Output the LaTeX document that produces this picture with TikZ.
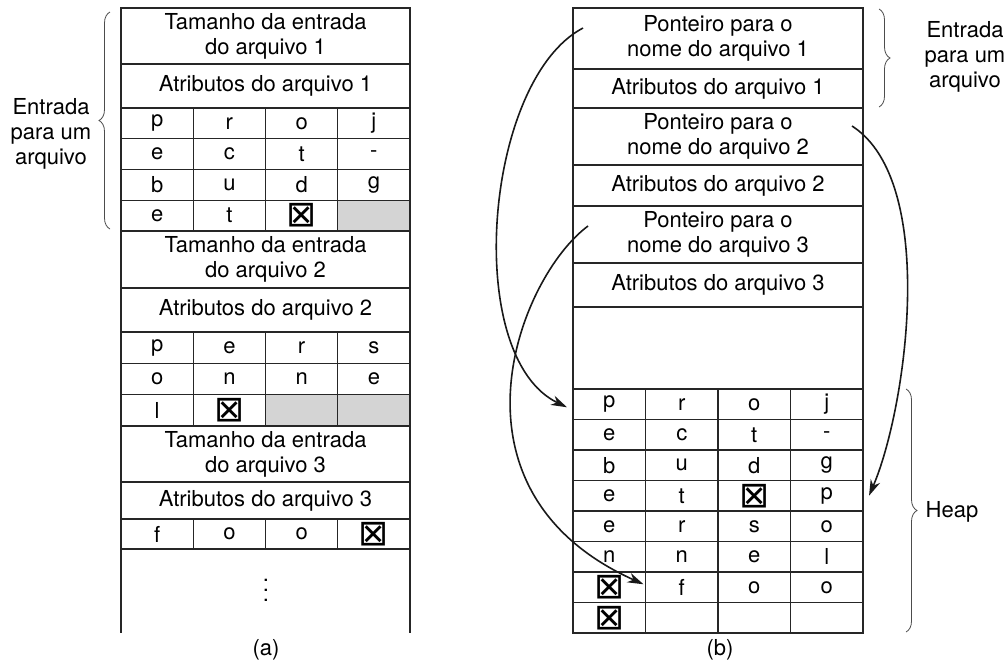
\documentclass[tikz,border=0pt]{standalone}
\usepackage{fontspec}
\setmainfont{TeX Gyre Heros}
\newfontfamily\symfont{DejaVu Sans}
\usepackage{tikz}
\usetikzlibrary{positioning,calc,arrows.meta,decorations.pathreplacing}

\newcommand{\xb}{{\symfont\fontsize{36}{36}\selectfont ⊠}}

\begin{document}
\begin{tikzpicture}[
    x=1pt, y=-1pt,
    font=\fontsize{22}{25}\selectfont,
    box/.style={draw=black!85, line width=1.3pt, inner sep=0pt, outer sep=0pt, anchor=north west, align=center},
    wide/.style={box, minimum width=289pt},
    wideb/.style={box, minimum width=290pt},
    cell/.style={box, minimum width=72.25pt, minimum height=30.75pt},
    hcell/.style={box, minimum width=72.5pt, minimum height=30.5pt},
    shade/.style={fill=black!17},
    brace/.style={decorate, decoration={brace, amplitude=11pt}, line width=0.8pt, draw=black!70},
    arrow/.style={line width=1.6pt, draw=black!90, -{Stealth[length=16pt, width=10pt, inset=5pt]}}
]
\useasboundingbox (0,0) rectangle (1008,665);

% (a) Entrada 1
\node (ta1) [wide, minimum height=56pt] at (121,8) {Tamanho da entrada\\do arquivo 1};
\node (aa1) [wide, minimum height=44pt] at (121,64) {Atributos do arquivo 1};
\foreach \t [count=\i] in {p,r,o,j} \node (a1r1c\i) [cell] at (121+72.25*\i-72.25,108) {\t};
\foreach \t [count=\i] in {e,c,t,-} \node (a1r2c\i) [cell] at (121+72.25*\i-72.25,138.75) {\t};
\foreach \t [count=\i] in {b,u,d,g} \node (a1r3c\i) [cell] at (121+72.25*\i-72.25,169.5) {\t};
\foreach \t [count=\i] in {e,t,\xb} \node (a1r4c\i) [cell] at (121+72.25*\i-72.25,200.25) {\t};
\node (a1r4c4) [cell, shade] at (337.75,200.25) {};

% (a) Entrada 2
\node (ta2) [wide, minimum height=57pt] at (121,231) {Tamanho da entrada\\do arquivo 2};
\node (aa2) [wide, minimum height=44pt] at (121,288) {Atributos do arquivo 2};
\foreach \t [count=\i] in {p,e,r,s} \node (a2r1c\i) [cell, minimum height=31.33pt] at (121+72.25*\i-72.25,332) {\t};
\foreach \t [count=\i] in {o,n,n,e} \node (a2r2c\i) [cell, minimum height=31.33pt] at (121+72.25*\i-72.25,363.33) {\t};
\node (a2r3c1) [cell, minimum height=31.33pt] at (121,394.67) {l};
\node (a2r3c2) [cell, minimum height=31.33pt] at (193.25,394.67) {\xb};
\node (a2r3c3) [cell, minimum height=31.33pt, shade] at (265.5,394.67) {};
\node (a2r3c4) [cell, minimum height=31.33pt, shade] at (337.75,394.67) {};

% (a) Entrada 3
\node (ta3) [wide, minimum height=56pt] at (121,426) {Tamanho da entrada\\do arquivo 3};
\node (aa3) [wide, minimum height=37pt] at (121,482) {Atributos do arquivo 3};
\foreach \t [count=\i] in {f,o,o,\xb} \node (a3r1c\i) [cell, minimum height=30pt] at (121+72.25*\i-72.25,519) {\t};
\draw [line width=1.3pt, black!85] (a3r1c1.south west) -- ++(0,84);
\draw [line width=1.3pt, black!85] (a3r1c4.south east) -- ++(0,84);
\node (dots) [align=center, font=\fontsize{22}{10}\selectfont] at (266,590) {.\\.\\.};

% (b) Entradas
\node (p1) [wideb, minimum height=61pt] at (573,8) {Ponteiro para o\\nome do arquivo 1};
\node (ab1) [wideb, minimum height=39pt] at (573,69) {Atributos do arquivo 1};
\node (p2) [wideb, minimum height=57pt] at (573,108) {Ponteiro para o\\nome do arquivo 2};
\node (ab2) [wideb, minimum height=41pt] at (573,165) {Atributos do arquivo 2};
\node (p3) [wideb, minimum height=57pt] at (573,206) {Ponteiro para o\\nome do arquivo 3};
\node (ab3) [wideb, minimum height=44pt] at (573,263) {Atributos do arquivo 3};
\node (livre) [wideb, minimum height=82pt] at (573,307) {};

% (b) Heap
\foreach \row [count=\r] in {{p,r,o,j},{e,c,t,-},{b,u,d,g},{e,t,\xb,p},{e,r,s,o},{n,n,e,l},{\xb,f,o,o},{\xb,{},{},{}}}
    \foreach \t [count=\i] in \row
        \node (h\r-\i) [hcell] at (573+72.5*\i-72.5,389+30.5*\r-30.5) {\t};

% Chaves
\draw [brace] (110,229) -- (110,12);
\node (enta) [align=center] at (51,134) {Entrada\\para um\\arquivo};
\draw [brace] (879,9) -- (879,107);
\node (entb) [align=center] at (965,57) {Entrada\\para um\\arquivo};
\draw [brace] (906,389) -- (906,632);
\node (heap) at (952,512) {Heap};

% Legendas
\node (capa) at (266,650) {(a)};
\node (capb) at (720,650) {(b)};

% Arrows
\draw [arrow] ($(p1.north west)+(10,20)$) .. controls (484,80) and (462,357) .. ($(h1-1.west)+(-6,3)$);
\draw [arrow] ($(p2.north east)+(-11,18)$) .. controls (939,182) and (906,410) .. ($(h4-4.east)+(6,0)$);
\draw [arrow] ($(p3.north west)+(15,20)$) .. controls (518,278) and (436,491) .. ($(h7-2.west)+(-2,-3)$);

\end{tikzpicture}
\end{document}
